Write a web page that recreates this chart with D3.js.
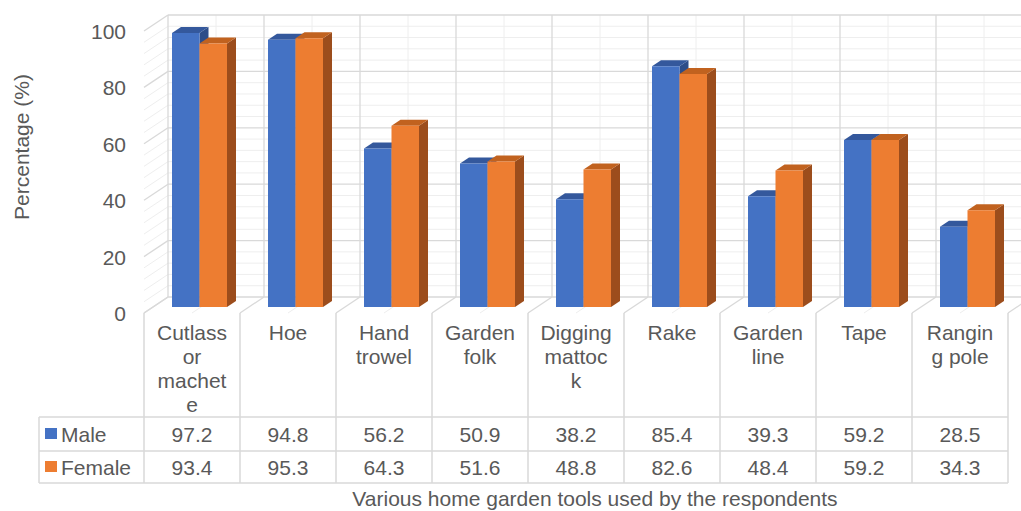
<!DOCTYPE html>
<html>
<head>
<meta charset="utf-8">
<script src="https://cdn.jsdelivr.net/npm/d3@7"></script>
<style>
  html, body { margin: 0; padding: 0; background: #ffffff; }
  svg { display: block; font-family: "Liberation Sans", Arial, sans-serif; }
</style>
</head>
<body>
<svg id="chart" width="1021" height="511"></svg>
<script>
// Tools and shares of respondents (%) by gender
const categories = ["Cutlass or machete", "Hoe", "Hand trowel", "Garden folk", "Digging mattock", "Rake", "Garden line", "Tape", "Ranging pole"];
const categoryLines = [["Cutlass", "or", "machet", "e"], ["Hoe"], ["Hand", "trowel"], ["Garden", "folk"], ["Digging", "mattoc", "k"], ["Rake"], ["Garden", "line"], ["Tape"], ["Rangin", "g pole"]];
const series = ["Male", "Female"];
const maleValues = [97.2, 94.8, 56.2, 50.9, 38.2, 85.4, 39.3, 59.2, 28.5];
const femaleValues = [93.4, 95.3, 64.3, 51.6, 48.8, 82.6, 48.4, 59.2, 34.3];
const yTicks = [0, 20, 40, 60, 80, 100];

const colors = {
  Male:   { front: "#4472C4", top: "#34589C", side: "#2D4D89" },
  Female: { front: "#ED7D31", top: "#C1621F", side: "#9C4D1C" }
};
const textColor = "#595959";
const majorGrid = "#D9D9D9";
const minorGrid = "#EEEEEE";

const svg = d3.select("#chart");

// Back wall scales
const x = d3.scaleBand().domain(categories).range([168, 1032]);
const y = d3.scaleLinear().domain([0, 100]).range([297, 15]);
const xs = d3.scaleBand().domain(series).range([19, 74]);

// Oblique depth: d = 0 back wall, d = 1 front edge
const DX = -24, DY = 16;
const proj = (px, py, d) => [px + DX * d, py + DY * d];
const poly = pts => pts.map(p => p.join(",")).join(" ");

const grid = svg.append("g");
const xLeft = x.range()[0];
const xRight = x.range()[1];

// Horizontal back-wall and side-wall gridlines
const minorVals = d3.range(0, 101, 4).filter(v => v % 20 !== 0);
function hLine(v, color, w) {
  grid.append("line").attr("x1", xLeft).attr("x2", xRight)
    .attr("y1", y(v)).attr("y2", y(v)).attr("stroke", color).attr("stroke-width", w);
  const f = proj(xLeft, y(v), 1);
  grid.append("line").attr("x1", xLeft).attr("y1", y(v)).attr("x2", f[0]).attr("y2", f[1])
    .attr("stroke", color).attr("stroke-width", w);
}
minorVals.forEach(v => hLine(v, minorGrid, 1));

// Vertical back-wall lines (category centres, light) and floor lines
categories.forEach(c => {
  const cx = x(c) + x.bandwidth() / 2;
  grid.append("line").attr("x1", cx).attr("x2", cx).attr("y1", y(100)).attr("y2", y(0))
    .attr("stroke", minorGrid).attr("stroke-width", 1);
  const f = proj(cx, y(0), 1);
  grid.append("line").attr("x1", cx).attr("y1", y(0)).attr("x2", f[0]).attr("y2", f[1])
    .attr("stroke", minorGrid).attr("stroke-width", 1);
});
yTicks.forEach(v => hLine(v, majorGrid, 1.3));
const bounds = categories.map(c => x(c)).concat([xRight]);
bounds.forEach(bx => {
  grid.append("line").attr("x1", bx).attr("x2", bx).attr("y1", y(100)).attr("y2", y(0))
    .attr("stroke", majorGrid).attr("stroke-width", 1.3);
  const f = proj(bx, y(0), 1);
  grid.append("line").attr("x1", bx).attr("y1", y(0)).attr("x2", f[0]).attr("y2", f[1])
    .attr("stroke", majorGrid).attr("stroke-width", 1.3);
});

// 3D columns
const dFront = 0.625, dBack = 0.25;
const bars = svg.append("g");
categories.forEach((c, i) => {
  const vals = { Male: maleValues[i], Female: femaleValues[i] };
  series.forEach(s => {
    const v = vals[s];
    const x0 = x(c) + xs(s), x1 = x0 + xs.bandwidth();
    const y0 = y(0), yv = y(v);
    const fTL = proj(x0, yv, dFront), fTR = proj(x1, yv, dFront);
    const fBL = proj(x0, y0, dFront), fBR = proj(x1, y0, dFront);
    const bTL = proj(x0, yv, dBack), bTR = proj(x1, yv, dBack), bBR = proj(x1, y0, dBack);
    bars.append("polygon").attr("points", poly([fTR, bTR, bBR, fBR])).attr("fill", colors[s].side);
    bars.append("polygon").attr("points", poly([fTL, bTL, bTR, fTR])).attr("fill", colors[s].top);
    bars.append("polygon").attr("points", poly([fTL, fTR, fBR, fBL])).attr("fill", colors[s].front);
  });
});

// Value axis labels (front edge)
const axisG = svg.append("g").attr("fill", textColor).attr("font-size", 21);
yTicks.forEach(v => {
  const p = proj(xLeft, y(v), 1);
  axisG.append("text").attr("x", 126).attr("y", p[1] + 8).attr("text-anchor", "end").text(v);
});
axisG.append("text").attr("transform", "translate(29,147) rotate(-90)")
  .attr("text-anchor", "middle").text("Percentage (%)");

// Data table
const table = svg.append("g");
const frontX = c => x(c) + DX;                 // column left edge at the front
const tLeft = 39, tTop = 417, tMid = 451, tBot = 483;
const tRight = xRight + DX;
[tTop, tMid, tBot].forEach(ty => {
  table.append("line").attr("x1", tLeft).attr("x2", tRight).attr("y1", ty).attr("y2", ty)
    .attr("stroke", majorGrid).attr("stroke-width", 1.5);
});
table.append("line").attr("x1", tLeft).attr("x2", tLeft).attr("y1", tTop).attr("y2", tBot)
  .attr("stroke", majorGrid).attr("stroke-width", 1.5);
bounds.forEach(bx => {
  table.append("line").attr("x1", bx + DX).attr("x2", bx + DX).attr("y1", y(0) + DY).attr("y2", tBot)
    .attr("stroke", majorGrid).attr("stroke-width", 1.5);
});

const tText = svg.append("g").attr("fill", textColor).attr("font-size", 21).attr("text-anchor", "middle");
categories.forEach((c, i) => {
  const cx = frontX(c) + x.bandwidth() / 2;
  categoryLines[i].forEach((ln, j) => {
    tText.append("text").attr("x", cx).attr("y", 340 + j * 24).text(ln);
  });
  tText.append("text").attr("x", cx).attr("y", 442).text(maleValues[i]);
  tText.append("text").attr("x", cx).attr("y", 475).text(femaleValues[i]);
});

// Legend keys inside the table
const rowBase = { Male: 442, Female: 475 };
series.forEach(s => {
  svg.append("rect").attr("x", 45).attr("y", rowBase[s] - 14).attr("width", 12).attr("height", 11)
    .attr("fill", colors[s].front);
  svg.append("text").attr("x", 61).attr("y", rowBase[s]).attr("fill", textColor)
    .attr("font-size", 21).text(s);
});

// Category axis title
svg.append("text").attr("x", 595).attr("y", 506).attr("text-anchor", "middle")
  .attr("fill", textColor).attr("font-size", 21)
  .text("Various home garden tools used by the respondents");
</script>
</body>
</html>
